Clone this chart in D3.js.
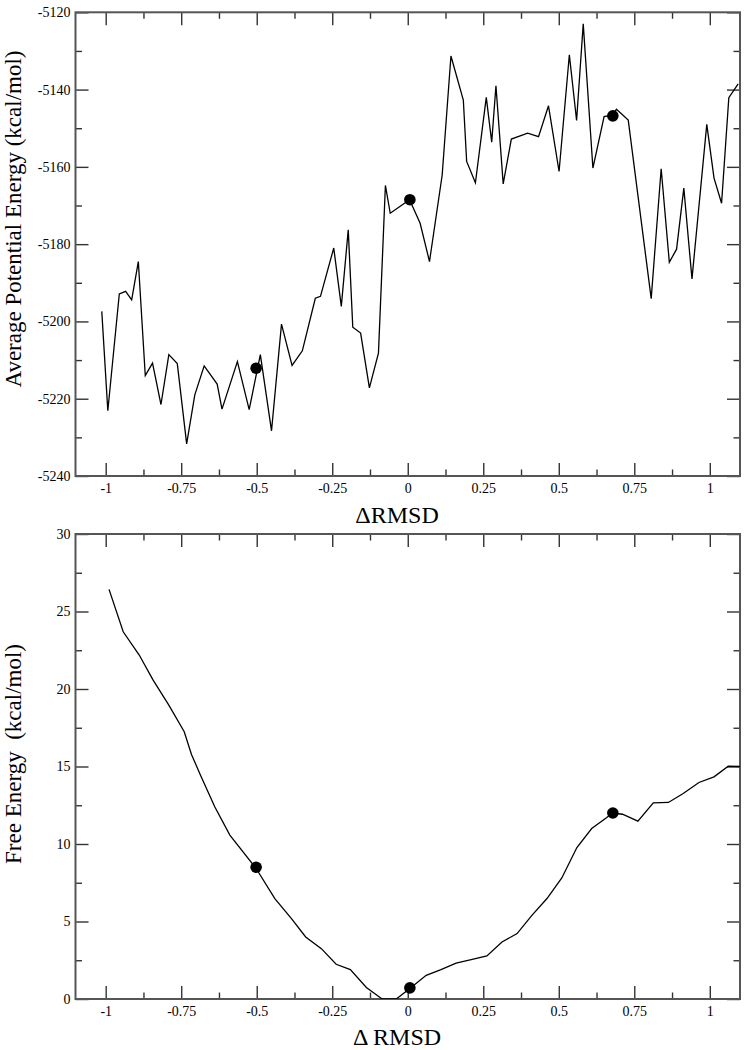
<!DOCTYPE html>
<html>
<head>
<meta charset="utf-8">
<script src="https://cdn.jsdelivr.net/npm/d3@7/dist/d3.min.js"></script>
<style>
  body { margin: 0; background: #fff; }
  text { font-family: "Liberation Serif", "Times New Roman", serif; fill: #000; }
</style>
</head>
<body>
<div id="chart"></div>
<script>
// ---- data ----
var potX = [-1.013, -0.993, -0.955, -0.934, -0.914, -0.892, -0.869, -0.845, -0.817, -0.791,
    -0.763, -0.732, -0.705, -0.674, -0.631, -0.615, -0.564, -0.525, -0.488, -0.451,
    -0.418, -0.383, -0.349, -0.306, -0.289, -0.245, -0.220, -0.197, -0.182, -0.156,
    -0.127, -0.097, -0.074, -0.058, 0.006, 0.041, 0.072, 0.114, 0.143, 0.184,
    0.195, 0.224, 0.260, 0.278, 0.292, 0.316, 0.343, 0.397, 0.433, 0.466,
    0.501, 0.535, 0.559, 0.581, 0.613, 0.650, 0.677, 0.691, 0.730, 0.806,
    0.839, 0.866, 0.890, 0.914, 0.941, 0.990, 1.014, 1.039, 1.063, 1.094];
var potY = [-5197.4, -5223.1, -5192.9, -5192.2, -5194.4, -5184.5, -5214.0, -5210.8, -5221.5, -5208.6,
    -5210.9, -5231.7, -5219.0, -5211.5, -5216.2, -5222.7, -5210.4, -5222.8, -5208.6, -5228.3,
    -5200.7, -5211.4, -5207.6, -5194.0, -5193.5, -5181.0, -5196.1, -5176.3, -5201.5, -5203.0,
    -5217.2, -5208.2, -5164.8, -5172.0, -5168.5, -5174.6, -5184.5, -5162.1, -5131.3, -5142.7,
    -5158.6, -5164.1, -5142.0, -5153.6, -5139.0, -5164.4, -5152.8, -5151.3, -5152.2, -5144.2,
    -5161.2, -5131.0, -5148.0, -5123.0, -5160.3, -5147.0, -5146.6, -5145.1, -5147.9, -5194.1,
    -5160.5, -5184.7, -5181.3, -5165.5, -5189.0, -5149.0, -5162.9, -5169.4, -5142.1, -5138.5];

var freeX = [-0.989, -0.942, -0.889, -0.843, -0.791, -0.740, -0.716, -0.685, -0.639, -0.589,
    -0.503, -0.440, -0.385, -0.338, -0.286, -0.237, -0.190, -0.137, -0.086, -0.038,
    0.009, 0.061, 0.110, 0.160, 0.210, 0.262, 0.312, 0.362, 0.411, 0.461,
    0.510, 0.560, 0.609, 0.659, 0.678, 0.711, 0.762, 0.813, 0.863, 0.912,
    0.964, 1.014, 1.061, 1.100];
var freeY = [26.43, 23.69, 22.19, 20.57, 18.96, 17.24, 15.78, 14.38, 12.40, 10.57,
    8.45, 6.48, 5.19, 4.00, 3.25, 2.24, 1.90, 0.74, 0.02, 0.0,
    0.71, 1.53, 1.90, 2.32, 2.54, 2.78, 3.68, 4.22, 5.40, 6.48,
    7.81, 9.77, 11.00, 11.71, 12.00, 11.92, 11.47, 12.66, 12.68, 13.26,
    13.97, 14.33, 15.02, 15.00];

// the three highlighted structures
var markX = [-0.502, 0.007, 0.679];
var potMarkY = [-5212.1, -5168.5, -5146.8];
var freeMarkY = [8.5, 0.72, 12.0];

var xMajor = [-1, -0.75, -0.5, -0.25, 0, 0.25, 0.5, 0.75, 1];
var xMinor = [-0.875, -0.625, -0.375, -0.125, 0.125, 0.375, 0.625, 0.875];
var xLabels = ["-1", "-0.75", "-0.5", "-0.25", "0", "0.25", "0.5", "0.75", "1"];

var potMajor = [-5240, -5220, -5200, -5180, -5160, -5140, -5120];
var potMinor = [-5230, -5210, -5190, -5170, -5150, -5130];
var freeMajor = [0, 5, 10, 15, 20, 25, 30];
var freeMinor = [2.5, 7.5, 12.5, 17.5, 22.5, 27.5];

var width = 745, height = 1050;
var left = 75.5, right = 740;

var svg = d3.select("#chart")
    .append("svg")
    .attr("width", width)
    .attr("height", height)
    .style("display", "block");

var x = d3.scaleLinear().domain([-1.1, 1.1]).range([left, right]);

function panel(id, top, bottom, yDomain, major, minor, xs, ys, marks, yTitle, xTitle, yTitleMid, xTitleY) {
    var y = d3.scaleLinear().domain(yDomain).range([bottom, top]);
    var g = svg.append("g").attr("class", id);

    g.append("clipPath").attr("id", "clip-" + id)
        .append("rect")
        .attr("x", left).attr("y", top)
        .attr("width", right - left).attr("height", bottom - top);

    // major and minor ticks on all four sides, pointing inward
    function ticks(axis, vals, size, pos, labels) {
        var a = axis.tickValues(vals).tickSizeInner(-size).tickSizeOuter(0);
        if (labels) a.tickFormat(function (d, i) { return labels[i]; });
        else a.tickFormat("");
        var sel = g.append("g").attr("transform", pos).call(a);
        sel.select(".domain").remove();
        sel.selectAll("line").attr("stroke", "#333").attr("stroke-width", 1.4);
        sel.selectAll("text").attr("font-size", 14).attr("fill", "#000");
        return sel;
    }

    var yLabels = major.map(function (d) { return String(d); });

    ticks(d3.axisBottom(x).tickPadding(7), xMajor, 13, "translate(0," + bottom + ")", xLabels);
    ticks(d3.axisBottom(x), xMinor, 6.5, "translate(0," + bottom + ")");
    ticks(d3.axisTop(x), xMajor, 13, "translate(0," + top + ")");
    ticks(d3.axisTop(x), xMinor, 6.5, "translate(0," + top + ")");
    ticks(d3.axisLeft(y).tickPadding(5), major, 13, "translate(" + left + ",0)", yLabels);
    ticks(d3.axisLeft(y), minor, 6.5, "translate(" + left + ",0)");
    ticks(d3.axisRight(y), major, 13, "translate(" + right + ",0)");
    ticks(d3.axisRight(y), minor, 6.5, "translate(" + right + ",0)");

    g.append("rect")
        .attr("x", left).attr("y", top)
        .attr("width", right - left).attr("height", bottom - top)
        .attr("fill", "none")
        .attr("stroke", "#555")
        .attr("stroke-width", 2);

    var line = d3.line()
        .x(function (d, i) { return x(xs[i]); })
        .y(function (d, i) { return y(ys[i]); });

    g.append("path")
        .datum(xs)
        .attr("clip-path", "url(#clip-" + id + ")")
        .attr("d", line)
        .attr("fill", "none")
        .attr("stroke", "#000")
        .attr("stroke-width", 1.3);

    g.selectAll(".mark")
        .data(markX)
        .enter().append("circle")
        .attr("class", "mark")
        .attr("cx", function (d) { return x(d); })
        .attr("cy", function (d, i) { return y(marks[i]); })
        .attr("r", 5.8)
        .attr("fill", "#000");

    g.append("text")
        .attr("transform", "translate(21," + yTitleMid + ") rotate(-90)")
        .attr("text-anchor", "middle")
        .attr("font-size", 23)
        .style("white-space", "pre")
        .text(yTitle);

    g.append("text")
        .attr("x", 397)
        .attr("y", xTitleY)
        .attr("text-anchor", "middle")
        .attr("font-size", 24)
        .style("white-space", "pre")
        .text(xTitle);
}

panel("pot", 12.3, 476, [-5240, -5120], potMajor, potMinor, potX, potY, potMarkY,
    "Average Potential Energy (kcal/mol)", "\u0394RMSD", 219, 523);
panel("free", 534, 999, [0, 30], freeMajor, freeMinor, freeX, freeY, freeMarkY,
    "Free Energy  (kcal/mol)", "\u0394 RMSD", 754, 1045);
</script>
</body>
</html>
